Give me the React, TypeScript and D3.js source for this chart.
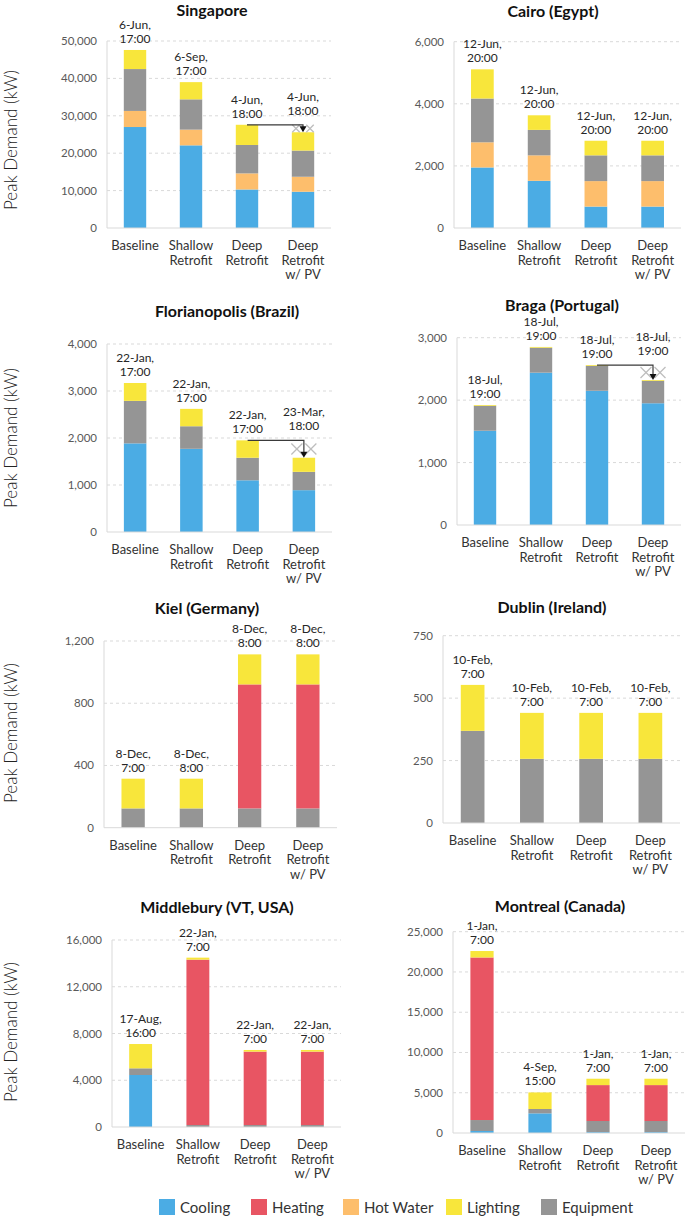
import React from "react";
import * as d3 from "d3";

// categories (multi-line labels) and series
const categories = [["Baseline"], ["Shallow", "Retrofit"], ["Deep", "Retrofit"], ["Deep", "Retrofit", "w/ PV"]];
const stackKeys = ["cooling", "hotWater", "equipment", "heating", "lighting"]; // bottom -> top
const legendKeys = ["cooling", "heating", "hotWater", "lighting", "equipment"];
const seriesNames: Record<string, string> = {
  cooling: "Cooling", heating: "Heating", hotWater: "Hot Water", lighting: "Lighting", equipment: "Equipment",
};
const colors: Record<string, string> = {
  cooling: "#4BACE4", heating: "#E85563", hotWater: "#FDBE6C", lighting: "#F8E63B", equipment: "#959595",
};

// peak demand breakdown, kW
const singapore = {
  cooling: [27000, 22100, 10300, 9700], heating: [0, 0, 0, 0], hotWater: [4300, 4200, 4300, 4000],
  equipment: [11200, 8100, 7600, 7000], lighting: [5100, 4600, 5400, 4900],
};
const cairo = {
  cooling: [1950, 1520, 690, 690], heating: [0, 0, 0, 0], hotWater: [810, 820, 820, 820],
  equipment: [1410, 820, 830, 830], lighting: [940, 470, 470, 470],
};
const florianopolis = {
  cooling: [1886, 1770, 1100, 890], heating: [0, 0, 0, 0], hotWater: [0, 0, 0, 0],
  equipment: [904, 480, 480, 390], lighting: [380, 370, 370, 300],
};
const braga = {
  cooling: [1510, 2440, 2150, 1950], heating: [0, 0, 0, 0], hotWater: [0, 0, 0, 0],
  equipment: [400, 400, 400, 360], lighting: [12, 12, 12, 12],
};
const kiel = {
  cooling: [0, 0, 0, 0], heating: [0, 0, 797, 797], hotWater: [0, 0, 0, 0],
  equipment: [124, 124, 124, 124], lighting: [191, 191, 193, 193],
};
const dublin = {
  cooling: [0, 0, 0, 0], heating: [0, 0, 0, 0], hotWater: [0, 0, 0, 0],
  equipment: [369, 257, 257, 257], lighting: [184, 184, 184, 184],
};
const middlebury = {
  cooling: [4450, 0, 0, 0], heating: [0, 14150, 6280, 6280], hotWater: [0, 0, 0, 0],
  equipment: [570, 170, 170, 170], lighting: [2080, 170, 140, 140],
};
const montreal = {
  cooling: [250, 2440, 120, 120], heating: [20190, 0, 4460, 4460], hotWater: [0, 0, 0, 0],
  equipment: [1360, 540, 1370, 1370], lighting: [800, 2060, 790, 790],
};

// peak time labels
const singaporePeaks = [["6-Jun,", "17:00"], ["6-Sep,", "17:00"], ["4-Jun,", "18:00"], ["4-Jun,", "18:00"]];
const cairoPeaks = [["12-Jun,", "20:00"], ["12-Jun,", "20:00"], ["12-Jun,", "20:00"], ["12-Jun,", "20:00"]];
const florianopolisPeaks = [["22-Jan,", "17:00"], ["22-Jan,", "17:00"], ["22-Jan,", "17:00"], ["23-Mar,", "18:00"]];
const bragaPeaks = [["18-Jul,", "19:00"], ["18-Jul,", "19:00"], ["18-Jul,", "19:00"], ["18-Jul,", "19:00"]];
const kielPeaks = [["8-Dec,", "7:00"], ["8-Dec,", "8:00"], ["8-Dec,", "8:00"], ["8-Dec,", "8:00"]];
const dublinPeaks = [["10-Feb,", "7:00"], ["10-Feb,", "7:00"], ["10-Feb,", "7:00"], ["10-Feb,", "7:00"]];
const middleburyPeaks = [["17-Aug,", "16:00"], ["22-Jan,", "7:00"], ["22-Jan,", "7:00"], ["22-Jan,", "7:00"]];
const montrealPeaks = [["1-Jan,", "7:00"], ["4-Sep,", "15:00"], ["1-Jan,", "7:00"], ["1-Jan,", "7:00"]];

// y ticks
const singaporeTicks = [0, 10000, 20000, 30000, 40000, 50000];
const cairoTicks = [0, 2000, 4000, 6000];
const florianopolisTicks = [0, 1000, 2000, 3000, 4000];
const bragaTicks = [0, 1000, 2000, 3000];
const kielTicks = [0, 400, 800, 1200];
const dublinTicks = [0, 250, 500, 750];
const middleburyTicks = [0, 4000, 8000, 12000, 16000];
const montrealTicks = [0, 5000, 10000, 15000, 20000, 25000];

const FONT = "Lato, 'Open Sans', sans-serif";

const panels = [
  { title: "Singapore", data: singapore, peaks: singaporePeaks, ticks: singaporeTicks, x: [107, 331], y: [228, 41], titleX: 212, titleY: 16, arrow: true, yTitle: 140 },
  { title: "Cairo (Egypt)", data: cairo, peaks: cairoPeaks, ticks: cairoTicks, x: [454, 681], y: [228, 41.7], titleX: 553, titleY: 17, arrow: false },
  { title: "Florianopolis (Brazil)", data: florianopolis, peaks: florianopolisPeaks, ticks: florianopolisTicks, x: [107, 332], y: [532, 344], titleX: 227, titleY: 317, arrow: true, yTitle: 438 },
  { title: "Braga (Portugal)", data: braga, peaks: bragaPeaks, ticks: bragaTicks, x: [457, 681], y: [525, 337.7], titleX: 562, titleY: 311, arrow: true },
  { title: "Kiel (Germany)", data: kiel, peaks: kielPeaks, ticks: kielTicks, x: [104, 337], y: [827.7, 641], titleX: 207, titleY: 614, arrow: false, yTitle: 733 },
  { title: "Dublin (Ireland)", data: dublin, peaks: dublinPeaks, ticks: dublinTicks, x: [443, 680], y: [823, 635.7], titleX: 552, titleY: 613, arrow: false },
  { title: "Middlebury (VT, USA)", data: middlebury, peaks: middleburyPeaks, ticks: middleburyTicks, x: [112, 341], y: [1127, 940], titleX: 217, titleY: 913, arrow: false, yTitle: 1032 },
  { title: "Montreal (Canada)", data: montreal, peaks: montrealPeaks, ticks: montrealTicks, x: [453, 685], y: [1133, 931.7], titleX: 560, titleY: 912, arrow: false },
];

function Panel({ p }: { p: any }) {
  const rows = categories.map((_, i) => {
    const r: any = { i };
    stackKeys.forEach(k => (r[k] = p.data[k][i]));
    return r;
  });
  const stacked = d3.stack().keys(stackKeys)(rows);
  const xScale = d3.scaleBand<number>().domain([0, 1, 2, 3]).range(p.x).paddingInner(0.6).paddingOuter(0.3);
  const yScale = d3.scaleLinear().domain([0, d3.max(p.ticks) as number]).range(p.y);
  const fmt = d3.format(",");
  const bw = xScale.bandwidth();
  const totals = rows.map(r => d3.sum(stackKeys, k => r[k]));
  const cx = (i: number) => (xScale(i) as number) + bw / 2;
  // label anchor: with an arrow, the PV label sits above the arrow line (deep retrofit level)
  const labelTop = (i: number) => (p.arrow && i === 3 ? yScale(totals[2]) - 3 : yScale(totals[i]));

  let arrow = null;
  if (p.arrow) {
    const ly = yScale(totals[2]);
    const ty = yScale(totals[3]);
    const ax = cx(3);
    const h = Math.min(5.5, Math.max(3.5, (ty - ly) / 2));
    const my = (ly + ty) / 2;
    arrow = (
      <g>
        {[-7, 7].map(dx => (
          <g key={dx} stroke="#bdbdbd" strokeWidth={1.3}>
            <line x1={ax + dx - h} y1={my - h} x2={ax + dx + h} y2={my + h} />
            <line x1={ax + dx - h} y1={my + h} x2={ax + dx + h} y2={my - h} />
          </g>
        ))}
        <path d={`M${cx(2)},${ly}H${ax}V${ty - 4}`} fill="none" stroke="#3a3a3a" strokeWidth={1.2} />
        <path d={`M${ax - 3.5},${ty - 6}L${ax + 3.5},${ty - 6}L${ax},${ty}Z`} fill="#111" />
      </g>
    );
  }

  return (
    <g fontFamily={FONT}>
      <text x={p.titleX} y={p.titleY} textAnchor="middle" fontSize={16} fontWeight={700} fill="#111">{p.title}</text>
      {p.ticks.map((t: number) => (
        <g key={t}>
          {t > 0 && (
            <line x1={p.x[0]} x2={p.x[1]} y1={yScale(t)} y2={yScale(t)} stroke="#d9d9d9" strokeDasharray="3,3" />
          )}
          <text x={p.x[0] - 10} y={yScale(t) + 4} textAnchor="end" fontSize={11.5} fill="#595959">{fmt(t)}</text>
        </g>
      ))}
      <line x1={p.x[0]} x2={p.x[0]} y1={p.y[0]} y2={p.y[1]} stroke="#d9d9d9" />
      {stacked.map(s => (
        <g key={s.key} fill={colors[s.key]}>
          {s.map((d, i) =>
            d[1] - d[0] > 0 ? (
              <rect key={i} x={xScale(i)} width={bw} y={yScale(d[1])} height={yScale(d[0]) - yScale(d[1])} />
            ) : null
          )}
        </g>
      ))}
      <line x1={p.x[0]} x2={p.x[1]} y1={p.y[0]} y2={p.y[0]} stroke="#d9d9d9" />
      {arrow}
      {p.peaks.map((lines: string[], i: number) => (
        <text key={i} x={cx(i)} textAnchor="middle" fontSize={12} fill="#262626">
          <tspan x={cx(i)} y={labelTop(i) - 21}>{lines[0]}</tspan>
          <tspan x={cx(i)} y={labelTop(i) - 7}>{lines[1]}</tspan>
        </text>
      ))}
      {categories.map((lines, i) => (
        <text key={i} textAnchor="middle" fontSize={13} fill="#333">
          {lines.map((l, j) => (
            <tspan key={j} x={cx(i)} y={p.y[0] + 22 + j * 14.5}>{l}</tspan>
          ))}
        </text>
      ))}
      {p.yTitle && (
        <text transform={`translate(17,${p.yTitle}) rotate(-90)`} textAnchor="middle" fontSize={17} fontWeight={300} fill="#222">
          Peak Demand (kW)
        </text>
      )}
    </g>
  );
}

const legendX = [159, 251, 343, 446, 541];

export default function App() {
  return (
    <svg width={685} height={1217} style={{ position: "absolute", left: 0, top: 0, background: "#fff" }}>
      {panels.map(p => <Panel key={p.title} p={p} />)}
      <g fontFamily={FONT}>
        {legendKeys.map((k, i) => (
          <g key={k}>
            <rect x={legendX[i]} y={1199} width={16} height={16} fill={colors[k]} />
            <text x={legendX[i] + 21} y={1213} fontSize={15} fill="#333">{seriesNames[k]}</text>
          </g>
        ))}
      </g>
    </svg>
  );
}
